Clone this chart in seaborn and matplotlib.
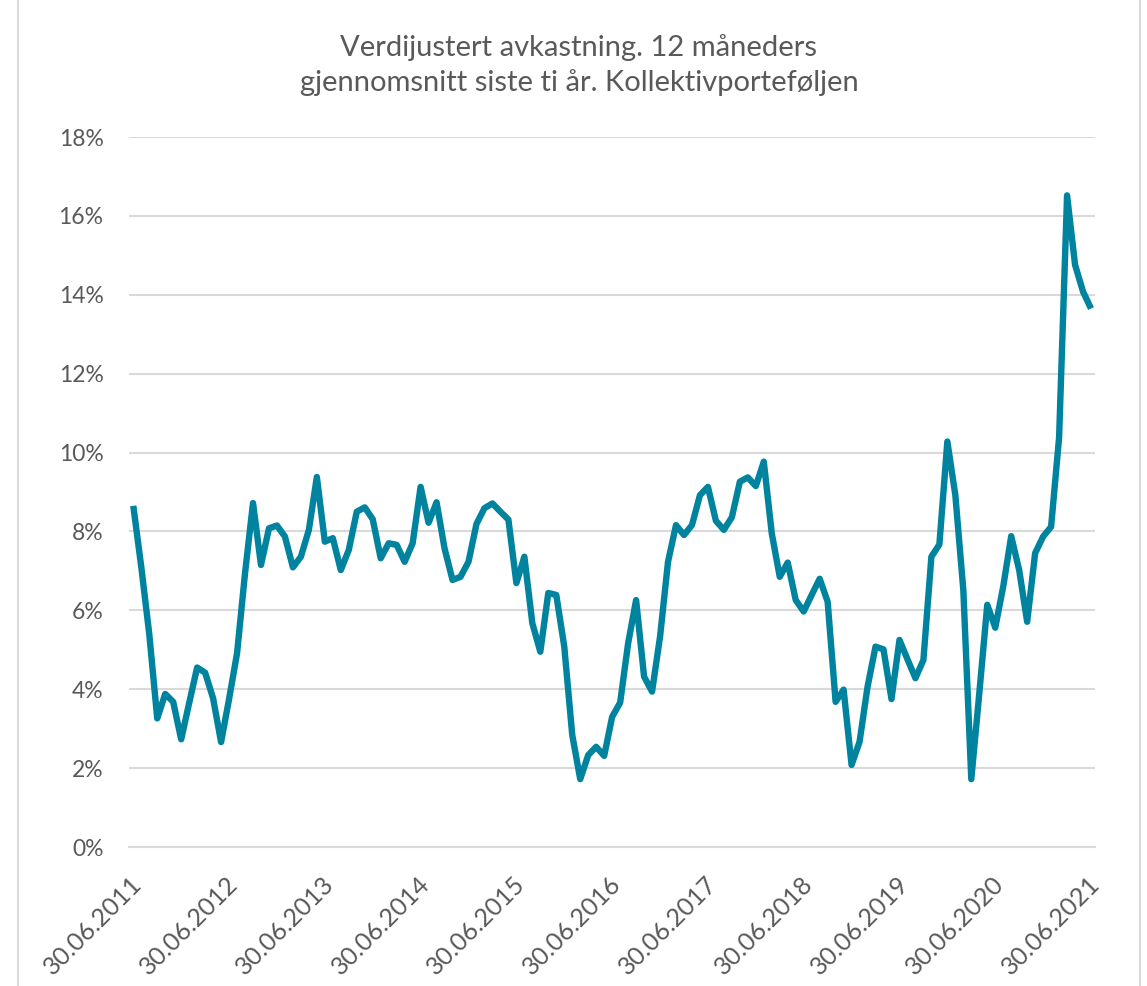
import numpy as np
import pandas as pd
import matplotlib
matplotlib.use("Agg")
import matplotlib.pyplot as plt
import matplotlib.transforms as mtransforms
from matplotlib.lines import Line2D
import seaborn as sns

# ---- data ----
dates = pd.date_range("2011-06-30", periods=121, freq="ME")
values = [
    8.65, 7.10, 5.40, 3.26, 3.88, 3.68, 2.73, 3.65, 4.55, 4.42, 3.77, 2.66,
    3.75, 4.91, 6.94, 8.72, 7.15, 8.08, 8.15, 7.87, 7.09, 7.36, 8.04, 9.38,
    7.74, 7.83, 7.02, 7.53, 8.50, 8.61, 8.31, 7.32, 7.70, 7.66, 7.23, 7.70,
    9.13, 8.22, 8.74, 7.57, 6.77, 6.85, 7.23, 8.19, 8.59, 8.71, 8.50, 8.30,
    6.69, 7.36, 5.67, 4.95, 6.44, 6.39, 5.08, 2.84, 1.72, 2.33, 2.54, 2.31,
    3.30, 3.66, 5.16, 6.26, 4.32, 3.94, 5.33, 7.23, 8.16, 7.91, 8.16, 8.92,
    9.13, 8.27, 8.04, 8.36, 9.26, 9.37, 9.15, 9.77, 7.95, 6.85, 7.21, 6.26,
    5.97, 6.39, 6.80, 6.22, 3.68, 3.99, 2.08, 2.67, 4.06, 5.08, 5.01, 3.75,
    5.25, 4.76, 4.28, 4.74, 7.36, 7.67, 10.28, 8.92, 6.52, 1.72, 3.89, 6.14,
    5.56, 6.60, 7.88, 7.02, 5.71, 7.45, 7.87, 8.12, 10.38, 16.52, 14.76, 14.08,
    13.65,
]
title_text = "Verdijustert avkastning. 12 måneders\ngjennomsnitt siste ti år. Kollektivporteføljen"
y_ticks = [0, 2, 4, 6, 8, 10, 12, 14, 16, 18]

df = pd.DataFrame({"pos": np.arange(len(dates)), "verdi": values})
tick_pos = np.arange(0, len(dates), 12)
tick_labels = [dates[i].strftime("%d.%m.%Y") for i in tick_pos]

# ---- style ----
sns.set_theme(style="white")
plt.rcParams["font.family"] = ["Lato", "DejaVu Sans"]
txt_color = "#595959"
grid_color = "#d9d9d9"
line_color = "#00839f"

W, H = 1147, 986
fig = plt.figure(figsize=(W / 100, H / 100), dpi=100)
ax = fig.add_axes([129.3 / W, 1 - 847 / H, (1095 - 129.3) / W, (847 - 137) / H])

sns.lineplot(data=df, x="pos", y="verdi", ax=ax, color=line_color, linewidth=4.6,
             solid_joinstyle="round", solid_capstyle="butt")

ax.set_xlim(-0.5, len(dates) - 0.5)
ax.set_ylim(0, 18)
ax.set_yticks(y_ticks)
ax.set_yticklabels([f"{v}%" for v in y_ticks], color=txt_color, fontsize=16.5)
ax.yaxis.grid(True, color=grid_color, linewidth=1.5)
ax.set_axisbelow(True)
ax.tick_params(axis="y", length=0, pad=18.5)

# ticks at category boundaries, labels at category starts
ax.set_xticks(tick_pos - 0.5)
ax.set_xticklabels(tick_labels, rotation=45, ha="right", va="top",
                   rotation_mode="anchor", color=txt_color, fontsize=18)
ax.tick_params(axis="x", length=6, width=1.5, color=grid_color, pad=12, direction="out")
offset = mtransforms.ScaledTranslation(1 / 100, 0, fig.dpi_scale_trans)
for lab in ax.get_xticklabels():
    lab.set_transform(lab.get_transform() + offset)

for s in ["top", "right", "left"]:
    ax.spines[s].set_visible(False)
ax.spines["bottom"].set_color(grid_color)
ax.spines["bottom"].set_linewidth(1.5)
ax.set_xlabel("")
ax.set_ylabel("")

fig.text(579 / W, 1 - 65 / H, title_text, ha="center", va="center",
         fontsize=21, color=txt_color, linespacing=1.38)

# chart area border
for xb in (18, 1140):
    fig.add_artist(Line2D([xb / W, xb / W], [0, 1], transform=fig.transFigure,
                          color=grid_color, linewidth=1.5))

fig.savefig("out.png", dpi=100, facecolor="white")
